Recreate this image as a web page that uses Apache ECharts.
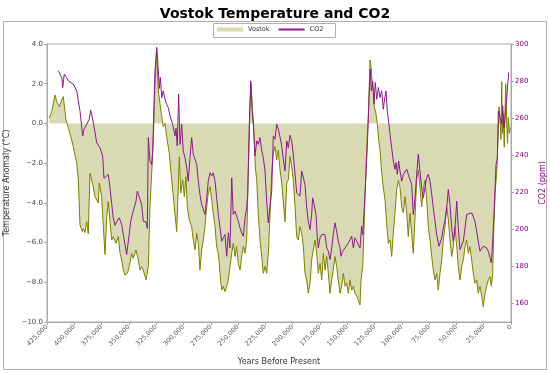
<!DOCTYPE html>
<html>
<head>
<meta charset="utf-8">
<script src="https://cdn.jsdelivr.net/npm/echarts@6/dist/echarts.min.js"></script>
<style>
html,body{margin:0;padding:0;background:#fff;}
#chart{width:550px;height:373px;}
</style>
</head>
<body>
<div id="chart"></div>
<script>
// Temperature anomaly (°C) vs years before present
const tempYears = [422900,420700,417700,416100,413700,411500,410100,407600,405500,402400,400900,399400,397800,396300,394800,392700,391700,390200,388600,387200,385600,384100,382600,381000,378000,377100,374900,373400,371900,370300,368900,367300,365700,364300,361800,359700,358100,356600,355100,353600,351400,349600,347400,346000,343500,341400,339800,338300,336800,334300,333100,332200,330700,329100,327600,326100,324500,323100,321500,319900,318500,316900,315400,313000,310800,309300,307800,306200,304700,303800,302500,300700,299200,297700,296500,294700,292500,291000,289400,287900,286400,284900,283300,281800,280300,278700,277300,275700,274100,272700,271100,269600,268100,266500,265000,263500,262000,260400,258900,257400,255800,254400,252800,251300,249800,248200,246700,245200,243600,242100,240600,239100,238100,236600,235400,234200,232900,231500,229900,228300,226900,225300,223800,222300,220700,219200,217700,216200,214600,213100,211600,210000,208600,207000,205400,204000,202400,200900,199400,197800,196300,194800,193300,191700,190200,188700,187100,185700,184100,182600,181100,179500,178000,176500,174900,173400,171900,170400,168800,167300,165800,164200,162800,161200,159700,158200,156600,155100,153600,152000,150500,149000,147500,145900,144400,142900,141300,139900,138300,137400,135800,134600,133500,132200,130700,129100,128200,127300,126100,125200,123700,122500,121200,120000,118400,117000,115400,113900,112400,110800,109300,107800,106300,104700,103200,101700,100100,98600,97100,95500,94100,92500,91000,89500,87900,86400,84900,83400,81800,80300,78800,77200,75700,74200,72600,71200,69600,68100,66600,65000,63500,62000,60500,58900,57400,55900,54300,52800,51300,49700,48300,46700,45200,43700,42100,40600,39100,37600,36000,34500,33000,31400,30000,28400,26800,25400,23800,22300,20800,19200,18000,16800,15600,14400,13100,11900,11000,10100,9200,8500,7800,7100,6200,5500,4800,3900,3200,2500,1600,600];
const tempValues = [0.26,0.59,1.43,1.1,0.84,1.18,1.35,0.17,-0.2,-0.84,-1.17,-1.6,-2.0,-2.85,-5.1,-5.45,-5.3,-5.5,-4.95,-5.55,-2.5,-2.4,-3.2,-3.7,-4.0,-3.0,-3.7,-5.2,-6.6,-4.7,-3.94,-4.95,-5.87,-5.7,-6.04,-5.7,-6.54,-6.88,-7.38,-7.63,-7.55,-7.2,-6.54,-6.8,-6.37,-6.88,-7.38,-7.2,-7.38,-7.88,-7.97,-7.2,-4.19,-2.5,-0.84,2.02,3.6,1.68,1.0,0.34,-0.17,0.0,-0.67,-1.5,-2.85,-3.69,-4.53,-5.45,-3.19,-1.68,-3.5,-2.85,-3.69,-2.68,-4.2,-4.86,-5.2,-5.87,-6.37,-5.54,-6.04,-7.38,-6.37,-5.87,-5.2,-4.2,-3.52,-3.19,-3.86,-4.53,-5.2,-6.21,-6.54,-7.55,-8.39,-8.2,-8.47,-8.2,-7.88,-7.2,-6.54,-6.04,-6.7,-6.2,-7.05,-7.38,-6.7,-6.2,-6.54,-5.87,-2.5,0.84,2.0,0.5,-0.5,-2.2,-2.85,-4.53,-5.87,-6.7,-7.55,-7.2,-7.55,-6.54,-4.53,-2.5,-1.5,-1.17,-1.84,-1.34,-2.3,-3.02,-3.9,-4.95,-3.0,-2.85,-1.67,-2.18,-2.85,-4.2,-5.7,-5.87,-5.2,-5.54,-6.2,-7.55,-7.88,-8.55,-8.05,-6.88,-6.37,-5.87,-6.54,-7.55,-7.05,-7.88,-6.54,-7.38,-6.7,-7.55,-8.55,-7.88,-7.38,-6.7,-7.2,-7.88,-8.55,-8.2,-7.55,-8.2,-8.05,-8.55,-7.88,-8.4,-8.2,-8.55,-8.7,-8.9,-9.14,-7.88,-7.2,-5.2,-3.35,-1.34,0.34,3.19,2.85,2.18,1.68,0.84,0.5,0.0,-0.84,-1.34,-2.5,-3.2,-3.86,-5.03,-6.04,-5.87,-6.7,-5.54,-4.53,-3.35,-2.85,-3.2,-4.2,-4.5,-3.69,-4.53,-5.7,-4.53,-5.54,-6.54,-4.7,-2.85,-2.35,-3.19,-4.2,-3.35,-2.85,-3.86,-5.2,-5.87,-6.7,-7.38,-7.88,-7.55,-8.39,-7.55,-6.88,-5.87,-5.2,-4.2,-4.86,-5.87,-6.7,-6.2,-5.2,-6.2,-7.2,-7.88,-7.2,-6.88,-6.2,-5.87,-6.54,-6.2,-6.88,-7.55,-8.05,-7.88,-8.55,-8.2,-8.72,-9.23,-8.55,-8.2,-7.88,-7.72,-8.2,-7.55,-5.03,-3.35,-2.5,-0.84,0.84,0.34,-0.8,2.1,-0.5,0.5,-1.2,0.6,2.0,0.0,-1.0,0.3,-0.5,-0.2];

// CO2 (ppm) vs years before present
const co2Years = [414700,411500,410600,409200,407000,405500,400900,397800,396300,394800,392300,391100,388600,386300,385000,383200,381000,379500,378000,376500,374000,372800,371000,368900,367300,365700,364300,362700,361200,358800,356600,355100,353600,352000,350500,348300,346000,343500,342300,340500,338300,336800,334300,333100,332200,330700,329100,328200,326100,324500,323600,322100,321200,319900,318500,316900,315400,313900,312300,309900,307800,306800,305700,304400,303200,301600,300200,298600,297000,295600,294000,292500,291000,289400,287900,286400,284900,283300,281800,280300,278700,277300,275700,274100,272700,271100,269600,268100,266500,265000,263500,262000,260400,258900,257400,255800,254400,252800,251300,249800,248200,246700,245200,243600,242100,241200,239700,238400,237200,236000,234500,232900,231500,229900,228300,226900,225300,223800,222300,220700,219200,217700,216200,214600,213100,211600,210000,208600,207000,205400,204000,202400,200900,199400,197800,196300,194800,193300,191700,190200,188700,187100,185700,184100,182600,181700,180300,178600,177400,176500,174900,173400,171900,170400,168800,167300,165800,164200,162800,161200,159700,158200,156600,155700,154200,152000,149000,145900,144400,142900,141300,139900,138300,136800,135800,134400,132800,131300,129800,128900,128000,126700,125500,124300,123000,121500,120000,118400,117000,116000,114500,113300,112000,110800,109300,107800,106300,105300,104100,102900,101700,100100,98600,97100,95500,94100,92500,91000,89500,87900,86400,84900,83400,81800,80300,78800,77200,75700,74200,72600,71200,69600,68100,65900,63500,62000,60500,58900,57400,55900,54300,52800,51300,49700,48300,46700,45200,43700,42100,40600,39100,36000,34500,33000,31400,30000,28400,26800,25400,23800,22300,20800,19200,18000,16800,15300,13700,12500,11600,10100,8500,7600,6400,4600,3400,2100];
const co2Values = [285.6,281.9,276.5,283.8,281.9,280.1,278.4,274.7,269.3,263.9,250.4,254,256.7,259.4,264.3,259.6,252.2,246.8,246,244,239.6,227.5,227.7,229.7,222.4,213.4,206.2,202.2,204,206.2,202.6,197.2,191.8,186.4,193.6,204.4,209.8,215.2,220.6,220.3,213.4,204.4,204,200.5,249.5,236.9,234.8,242.3,285.6,298.2,291,276,282,271,274.7,270.2,267.5,265.7,261.2,256.7,250.4,254.6,245,273,245.8,256.7,242.3,238.7,233.3,226,238.7,249.5,240.5,239.6,235.1,226,218.8,213.4,212.5,208,217,226,230.5,228.7,230.5,226,217,208,200.8,193.6,192.7,197.2,185.5,198.1,190,227.8,208,209.8,208.9,204.4,200.8,198.1,196.3,206.2,211.6,218.8,256.7,280.1,265.7,256.7,239.6,247.7,245.9,249.5,242.3,238.7,231.5,215.2,203.5,204.4,220.6,250.4,248.6,256.7,254,250,245,238,231.5,247.7,244,250.8,247.7,240.5,229.7,219.7,218.8,217.9,231.5,231.1,224.2,211.6,204.4,199.9,208,217,213.4,208,195.4,190,195.4,197.2,197.5,197.2,190,188.2,183.7,190,197.2,203.5,199,193.6,190,185.5,188.2,190,192.7,196.3,190,195.4,193.6,191.8,190,201.7,197.2,211.6,229.7,249.5,274.7,286.5,274.7,280.1,267.5,279.2,270.2,276.5,271.1,274.7,264.8,269.3,274.7,263.9,257.6,251.3,244,236.9,232.4,236,229.7,236.9,231.5,226,229.7,230.5,232.4,229.7,229.7,224.2,208,217,229.7,240.5,231.5,222.5,217,222.5,227.8,229.7,226,218.8,211.6,204.4,197.2,190.9,195.4,200.8,204.4,211.6,221.5,213.4,200.8,193.6,200.8,215.2,200.8,189.1,188.6,193.6,200.8,208,208.9,208.9,208,204.4,199,193.6,188.2,189.1,190.9,191.4,190,188.2,184.6,181.9,193.6,211.6,235,237.8,263.9,260.3,256.7,266.6,254.9,265.7,274.7,284.7];

const co2TickValues = [160,180,200,220,240,260,280,300];

const FONT = 'DejaVu Sans';
const OLIVE = '#808000';
const FILL = '#d9d9b4';
const PURPLE = '#8b1a8b';
const AXIS = '#a8a8a8';

const chart = echarts.init(document.getElementById('chart'), null, {renderer: 'canvas'});
chart.setOption({
  animation: false,
  backgroundColor: '#fff',
  title: {
    text: 'Vostok Temperature and CO2',
    left: 'center',
    top: 2,
    textStyle: {fontFamily: FONT, fontSize: 14, fontWeight: 'bold', color: '#000'}
  },
  graphic: [
    {type: 'rect', shape: {x: 3.5, y: 21.5, width: 543, height: 348}, style: {fill: 'none', stroke: '#b0b0b0', lineWidth: 1}, z: -10},
    {type: 'rect', shape: {x: 213.5, y: 23.5, width: 122, height: 14}, style: {fill: '#fff', stroke: '#b0b0b0', lineWidth: 1}, z: -5}
  ],
  legend: {
    left: 217,
    top: 26,
    itemWidth: 26,
    itemHeight: 4,
    itemGap: 8,
    padding: 0,
    textStyle: {fontFamily: FONT, fontSize: 6.5, color: '#333'},
    data: [
      {name: 'Vostok', icon: 'rect', itemStyle: {color: FILL, borderWidth: 0, borderColor: FILL}},
      {name: 'CO2', itemStyle: {opacity: 0}}
    ]
  },
  grid: {
    left: 47, right: 39, top: 44, bottom: 51,
    containLabel: false,
    outerBoundsMode: 'none',
    show: true, borderColor: AXIS, borderWidth: 1, backgroundColor: 'transparent'
  },
  xAxis: {
    type: 'value',
    min: 0, max: 425000, interval: 25000,
    inverse: true,
    name: 'Years Before Present',
    nameLocation: 'middle',
    nameGap: 36,
    nameTextStyle: {fontFamily: FONT, fontSize: 8, color: '#333'},
    axisLine: {show: true, onZero: false, lineStyle: {color: AXIS}},
    axisTick: {show: true, length: 3, lineStyle: {color: AXIS}},
    splitLine: {show: false},
    axisLabel: {
      rotate: 45, fontFamily: FONT, fontSize: 6.5, color: '#555', margin: 4,
      hideOverlap: false,
      formatter: v => v.toLocaleString('en-US')
    }
  },
  yAxis: [
    {
      type: 'value', min: -10, max: 4, interval: 2,
      position: 'left',
      name: 'Temperature Anomaly (°C)',
      nameLocation: 'middle', nameRotate: 90, nameGap: 34,
      nameTextStyle: {fontFamily: FONT, fontSize: 8, color: '#333'},
      axisLine: {show: true, onZero: false, lineStyle: {color: AXIS}},
      axisTick: {show: true, length: 3, lineStyle: {color: AXIS}},
      splitLine: {show: false},
      axisLabel: {
        fontFamily: FONT, fontSize: 7, color: '#444', margin: 4,
        formatter: v => v.toFixed(1).replace('-', '\u2212')
      }
    },
    {
      type: 'value', min: 150, max: 300,
      position: 'right',
      name: 'CO2 (ppm)',
      nameLocation: 'middle', nameRotate: 90, nameGap: 25,
      nameTextStyle: {fontFamily: FONT, fontSize: 8, color: '#800080'},
      axisLine: {show: true, onZero: false, lineStyle: {color: AXIS}},
      axisTick: {show: true, length: 3, lineStyle: {color: AXIS}, customValues: co2TickValues},
      splitLine: {show: false},
      axisLabel: {
        fontFamily: FONT, fontSize: 7, color: '#800080', margin: 4,
        customValues: co2TickValues
      }
    }
  ],
  series: [
    {
      name: 'Vostok', type: 'line', yAxisIndex: 0,
      data: tempYears.map((y, i) => [y, tempValues[i]]),
      symbol: 'none', showSymbol: false,
      lineStyle: {color: OLIVE, width: 1},
      itemStyle: {color: OLIVE},
      areaStyle: {color: FILL, opacity: 1, origin: 0},
      z: 2
    },
    {
      name: 'CO2', type: 'line', yAxisIndex: 1,
      data: co2Years.map((y, i) => [y, co2Values[i]]),
      symbol: 'none', showSymbol: false,
      lineStyle: {color: PURPLE, width: 1},
      itemStyle: {color: PURPLE},
      z: 3
    }
  ]
});
</script>
</body>
</html>
